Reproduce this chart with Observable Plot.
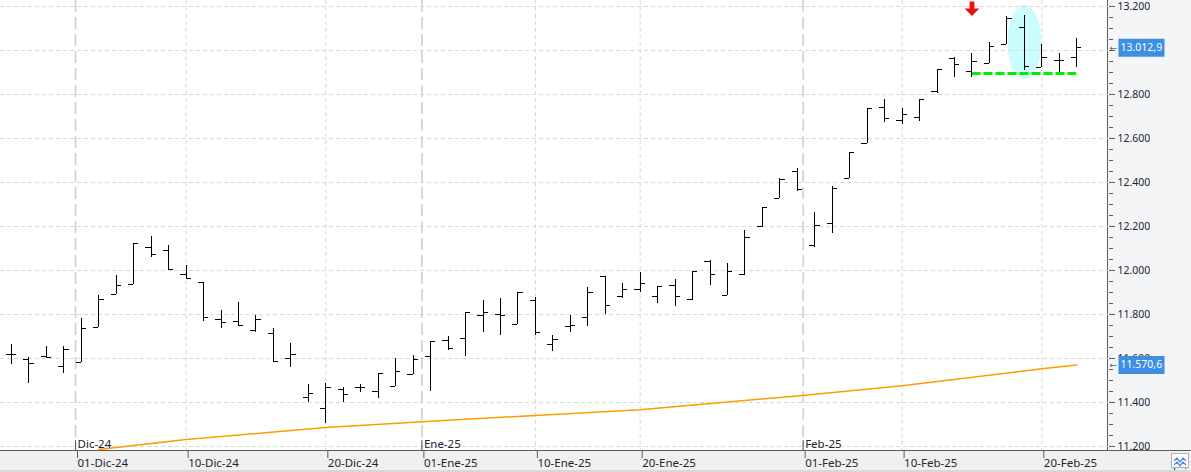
<!DOCTYPE html>
<html>
<head>
<meta charset="utf-8">
<script src="https://cdn.jsdelivr.net/npm/d3@7"></script>
<script src="https://cdn.jsdelivr.net/npm/@observablehq/plot@0.6"></script>
<style>
  html, body { margin: 0; padding: 0; background: #fff; }
  #chart { position: relative; width: 1191px; height: 472px; overflow: hidden; }
  #icon { position: absolute; left: 1171px; top: 453px; width: 16px; height: 13px; background: #fff; border: 1px solid #b0b0b0; }
</style>
</head>
<body>
<div id="chart"></div>
<script>
// ---- data ----
const dates = [
  "2024-11-26","2024-11-27","2024-11-28","2024-11-29",
  "2024-12-02","2024-12-03","2024-12-04","2024-12-05","2024-12-06","2024-12-09","2024-12-10","2024-12-11","2024-12-12","2024-12-13",
  "2024-12-16","2024-12-17","2024-12-18","2024-12-19","2024-12-20","2024-12-23","2024-12-24","2024-12-27","2024-12-30","2024-12-31",
  "2025-01-02","2025-01-03","2025-01-06","2025-01-07","2025-01-08","2025-01-09","2025-01-10","2025-01-13","2025-01-14","2025-01-15",
  "2025-01-16","2025-01-17","2025-01-20","2025-01-21","2025-01-22","2025-01-23","2025-01-24","2025-01-27","2025-01-28","2025-01-29",
  "2025-01-30","2025-01-31",
  "2025-02-03","2025-02-04","2025-02-05","2025-02-06","2025-02-07","2025-02-10","2025-02-11","2025-02-12","2025-02-13","2025-02-14",
  "2025-02-17","2025-02-18","2025-02-19","2025-02-20","2025-02-21","2025-02-24"
];
const open = [11618,11595,11610,11564,11582,11741,11890,11935,12103,12090,
  11980,11945,11777,11767,11727,11714,11600,11421,11371,11458,
  11467,11451,11473,11526,11608,11682,11690,11794,11799,11753,
  11864,11662,11745,11785,11973,11880,11915,11882,11930,11868,
  12042,11886,11980,12198,12329,12451,12112,12212,12420,12576,
  12740,12682,12694,12815,12962,12906,12940,13026,13103,12924,
  12955,12970];
const high = [11664,11605,11655,11655,11782,11886,11976,12124,12153,12112,
  12021,11945,11818,11855,11795,11735,11667,11482,11486,11467,
  11480,11532,11599,11612,11677,11700,11808,11864,11874,11900,
  11877,11703,11794,11921,11973,11940,11990,11929,11960,11997,
  12047,12030,12182,12288,12417,12462,12264,12383,12535,12735,
  12777,12738,12776,12914,12970,12985,13035,13156,13159,13027,
  12985,13053];
const low = [11573,11486,11600,11532,11582,11741,11890,11935,12058,12000,
  11960,11770,11738,11747,11720,11583,11558,11399,11306,11399,
  11444,11420,11473,11526,11451,11636,11610,11720,11705,11753,
  11703,11633,11720,11747,11799,11871,11901,11849,11838,11864,
  11930,11886,11977,12197,12326,12359,12103,12170,12420,12576,
  12671,12662,12679,12806,12879,12879,12940,13026,12909,12924,
  12899,12924];
const close = [11618,11577,11606,11641,11736,11870,11930,12121,12073,12006,
  11962,11785,11762,11748,11776,11585,11618,11440,11467,11435,
  11470,11532,11540,11595,11677,11647,11808,11808,11794,11899,
  11717,11685,11751,11899,11841,11914,11940,11929,11882,11997,
  11980,11995,12151,12285,12415,12368,12203,12371,12535,12735,
  12690,12708,12776,12912,12935,12951,13020,13144,12929,12967,
  12955,13012.9];

// moving average (orange)
const maDates  = ["2024-12-03","2024-12-10","2024-12-20","2025-01-02","2025-01-10","2025-01-20","2025-01-31","2025-02-10","2025-02-20","2025-02-24"];
const maValues = [11186, 11232, 11286, 11315, 11341, 11367, 11430, 11476, 11553, 11570.6];

// axis ticks
const yTicks = [11200, 11400, 11600, 11800, 12000, 12200, 12400, 12600, 12800, 13000, 13200];
const yLabelTicks = [11200, 11400, 11600, 11800, 12000, 12200, 12400, 12600, 12800, 13200]; // 13.000 is hidden by the price box
const yMinorTicks = d3.range(11200, 13201, 50);
const dayTickDates  = ["2024-12-10","2024-12-20","2025-01-10","2025-01-20","2025-02-10","2025-02-20"];
const dayTickLabels = ["10-Dic-24","20-Dic-24","10-Ene-25","20-Ene-25","10-Feb-25","20-Feb-25"];
const monthStarts   = ["2024-12-01","2025-01-01","2025-02-01"];
const monthTickLabels = ["01-Dic-24","01-Ene-25","01-Feb-25"];
const monthNames    = ["Dic-24","Ene-25","Feb-25"];

// annotations
const lastPrice = 13012.9;
const maLast = 11570.6;
const supportLevel = 12896;
const supportFrom = "2025-02-14", supportTo = "2025-02-24";
const signalDate = "2025-02-14", signalLevel = 13189;
const highlightDate = "2025-02-19", highlightLevel = 13038;

// ---- helpers ----
const idx = new Map(dates.map((d, i) => [d, i]));
const parse = d3.utcParse("%Y-%m-%d");
const bars = dates.map((d, i) => ({i, date: d, open: open[i], high: high[i], low: low[i], close: close[i]}));
const ma = maDates.map((d, k) => ({i: idx.get(d), v: maValues[k]}));
function calPos(ds) {
  const t = parse(ds);
  const n = dates.findIndex(d => parse(d) >= t);
  const p = n - 1;
  const tp = parse(dates[p]), tn = parse(dates[n]);
  return p + (t - tp) / (tn - tp);
}
const monthPos = monthStarts.map(calPos);
const dayPos = dayTickDates.map(d => idx.get(d));
const tickVals = [...monthPos, ...dayPos];
const tickLab = new Map([...monthPos.map((p, k) => [p, monthTickLabels[k]]), ...dayPos.map((p, k) => [p, dayTickLabels[k]])]);

const loc = d3.formatLocale({decimal: ",", thousands: ".", grouping: [3], currency: ["", ""]});
const fmtInt = loc.format(",d");
const fmt1 = loc.format(",.1f");

const rectSym = (w, h) => ({draw(c) { c.moveTo(-w/2, -h/2); c.lineTo(w/2, -h/2); c.lineTo(w/2, h/2); c.lineTo(-w/2, h/2); c.closePath(); }});
const ellipseSym = (rx, ry) => ({draw(c) {
  const k = 0.5523, kx = rx * k, ky = ry * k;
  c.moveTo(rx, 0);
  c.bezierCurveTo(rx, ky, kx, ry, 0, ry);
  c.bezierCurveTo(-kx, ry, -rx, ky, -rx, 0);
  c.bezierCurveTo(-rx, -ky, -kx, -ry, 0, -ry);
  c.bezierCurveTo(kx, -ry, rx, -ky, rx, 0);
  c.closePath();
}});
const arrowSym = {draw(c) {
  c.moveTo(-2.4, -7.5); c.lineTo(2.4, -7.5); c.lineTo(2.4, -0.3); c.lineTo(7.4, -0.3);
  c.lineTo(0, 7.2); c.lineTo(-7.4, -0.3); c.lineTo(-2.4, -0.3); c.closePath();
}};

// ---- layout ----
const W = 1191, H = 472, mR = 83, mB = 22;
const step = 17.463, firstPx = 11;
const xDomain = [-firstPx / step, (W - mR - firstPx) / step];
const yDomain = [13200 - 444 / 0.22, 13200 + 6 / 0.22];

const font = "'Noto Sans', 'DejaVu Sans', sans-serif";
const txt = "#1e2530";

const chart = Plot.plot({
  width: W, height: H,
  marginLeft: 0, marginRight: mR, marginTop: 0, marginBottom: mB,
  x: {type: "linear", domain: xDomain},
  y: {type: "linear", domain: yDomain},
  style: {
    fontFamily: font,
    background: "linear-gradient(to bottom, transparent 450px, #5c5c5c 450px, #5c5c5c 451px, #f0f0f0 451px, #f0f0f0 470px, #d8d8d8 470px), linear-gradient(to right, #ffffff 1107px, #5c5c5c 1107px, #5c5c5c 1108px, #f4f5f7 1108px)"
  },
  marks: [
    Plot.dot([{i: idx.get(highlightDate), v: highlightLevel}], {x: "i", y: "v", symbol: ellipseSym(17, 37), fill: "#ccfdfd", stroke: "none"}),
    Plot.ruleY(yTicks, {stroke: "#d8d8d8", strokeDasharray: "4,3"}),
    Plot.ruleX(dayPos, {stroke: "#d8d8d8", strokeDasharray: "4,3"}),
    Plot.ruleX(monthPos, {stroke: "#cfcfcf", strokeWidth: 1.6, strokeDasharray: "12,5"}),
    Plot.ruleX(monthPos, {stroke: "#5c5c5c", insetTop: 440}),
    Plot.line(ma, {x: "i", y: "v", stroke: "#ff9a00", strokeWidth: 1.5}),
    Plot.ruleY([supportLevel], {x1: idx.get(supportFrom), x2: idx.get(supportTo), stroke: "#00ee00", strokeWidth: 3, strokeDasharray: "9,3"}),
    Plot.ruleX(bars, {x: "i", y1: "low", y2: "high", stroke: "#000", shapeRendering: "crispEdges"}),
    Plot.ruleY(bars, {y: "open", x1: d => d.i - 0.3, x2: "i", stroke: "#000", shapeRendering: "crispEdges"}),
    Plot.ruleY(bars, {y: "close", x1: "i", x2: d => d.i + 0.3, stroke: "#000", shapeRendering: "crispEdges"}),
    Plot.dot([{i: idx.get(signalDate), v: signalLevel}], {x: "i", y: "v", symbol: arrowSym, fill: "#ee1111", stroke: "none"}),
    Plot.axisY({anchor: "right", ticks: yMinorTicks, tickSize: 4, tickFormat: () => "", stroke: "#5c5c5c"}),
    Plot.axisY({anchor: "right", ticks: yTicks, tickSize: 6, tickFormat: () => "", stroke: "#5c5c5c"}),
    Plot.axisY({anchor: "right", ticks: yLabelTicks, tickSize: 6, tickPadding: 3, tickFormat: fmtInt, stroke: "#5c5c5c", fill: txt, fontSize: 10.5}),
    Plot.axisX({anchor: "bottom", ticks: tickVals, tickFormat: d => tickLab.get(d), tickSize: 8, tickPadding: 0, textAnchor: "start", dx: 2, stroke: "#5c5c5c", fill: txt, fontSize: 11.5}),
    Plot.text(monthPos, {x: d => d, text: (d, k) => monthNames[k], frameAnchor: "bottom", lineAnchor: "bottom", textAnchor: "start", dx: 2, dy: -3, fill: txt, fontSize: 11.5}),
    Plot.dot([lastPrice, maLast], {y: d => d, frameAnchor: "right", dx: 33, symbol: rectSym(46, 18), fill: "#3c8fe3", stroke: "none"}),
    Plot.text([lastPrice, maLast], {y: d => d, text: d => fmt1(d), frameAnchor: "right", dx: 12, textAnchor: "start", fill: "#ffffff", fontSize: 10.5}),
    Plot.text([lastPrice, maLast], {y: d => d, text: () => "←", frameAnchor: "right", dx: 1, textAnchor: "start", fill: "#666", fontSize: 9})
  ]
});
const host = document.getElementById("chart");
host.appendChild(chart);
const icon = document.createElement("div");
icon.id = "icon";
icon.innerHTML = '<svg width="16" height="13" viewBox="0 0 16 13"><polyline points="2,6 5,3 8,7 11,3 14,6" fill="none" stroke="#4a90d9" stroke-width="1.3"/><polyline points="2,10 5,7 8,11 11,7 14,10" fill="none" stroke="#4a90d9" stroke-width="1.3"/></svg>';
host.appendChild(icon);
</script>
</body>
</html>
